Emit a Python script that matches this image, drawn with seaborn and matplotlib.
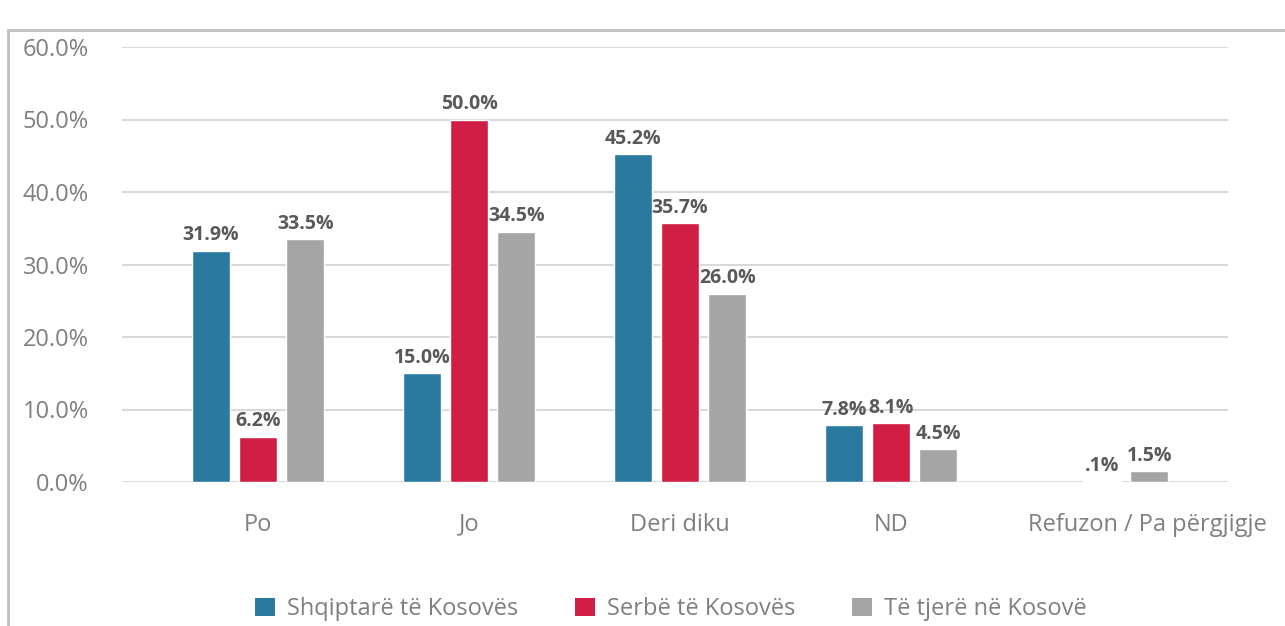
import pandas as pd
import numpy as np
import seaborn as sns
import matplotlib.pyplot as plt
from matplotlib.patches import Rectangle, Patch
from matplotlib.transforms import ScaledTranslation

# Données
categories = ["Po", "Jo", "Deri diku", "ND", "Refuzon / Pa përgjigje"]
groupes = ["Shqiptarë të Kosovës", "Serbë të Kosovës", "Të tjerë në Kosovë"]
shqiptare = [31.9, 15.0, 45.2, 7.8, np.nan]
serbe = [6.2, 50.0, 35.7, 8.1, 0.1]
te_tjere = [33.5, 34.5, 26.0, 4.5, 1.5]
couleurs = ["#2A7AA0", "#D01E45", "#A5A5A5"]

rows = []
for g, vals in zip(groupes, [shqiptare, serbe, te_tjere]):
    for c, v in zip(categories, vals):
        rows.append({"categorie": c, "groupe": g, "valeur": v})
df = pd.DataFrame(rows)

sns.set_theme(style="white")
plt.rcParams["font.family"] = ["Open Sans", "DejaVu Sans"]

fig = plt.figure(figsize=(12.85, 6.26), dpi=100)
ax = fig.add_axes([122 / 1285, 144 / 626, (1228 - 122) / 1285, (482 - 47) / 626])

sns.barplot(data=df, x="categorie", y="valeur", hue="groupe", order=categories,
            hue_order=groupes, palette=couleurs, width=0.67, gap=0.2,
            saturation=1, ax=ax, legend=False)

ax.set_ylim(0, 60)
ax.set_xlim(-0.645, 4.597)
ax.set_yticks(range(0, 61, 10))
ax.set_yticklabels([f"{v:.1f}%" for v in range(0, 61, 10)])
ax.yaxis.grid(True, color="#D9D9D9", linewidth=1.5)
ax.set_axisbelow(True)
for s in ax.spines.values():
    s.set_visible(False)
ax.tick_params(axis="y", length=0, pad=24, labelsize=17, labelcolor="#7F7F7F")
ax.tick_params(axis="x", length=0, pad=22, labelsize=17, labelcolor="#7F7F7F")
ax.set_xlabel("")
ax.set_ylabel("")

# décaler un peu la dernière étiquette comme dans Excel
lbl = ax.get_xticklabels()[-1]
lbl.set_transform(lbl.get_transform() + ScaledTranslation(0.45, 0, fig.dpi_scale_trans))

# Étiquettes de valeurs
for cont, vals in zip(ax.containers, [shqiptare, serbe, te_tjere]):
    for bar, v in zip(cont, vals):
        if np.isnan(v):
            continue
        txt = f"{v:.1f}%"
        if txt.startswith("0."):
            txt = txt[1:]
        ax.annotate(txt, (bar.get_x() + bar.get_width() / 2, v),
                    xytext=(0, 4), textcoords="offset points",
                    ha="center", va="bottom", fontsize=14, fontweight="bold",
                    color="#595959")

handles = [Patch(facecolor=c, edgecolor="none") for c in couleurs]
leg = fig.legend(handles, groupes, loc="center", bbox_to_anchor=(0.522, 0.027),
                 ncol=3, frameon=False, fontsize=17, handlelength=0.85,
                 handleheight=0.85, handletextpad=0.5, columnspacing=2.4)
for t in leg.get_texts():
    t.set_color("#7F7F7F")

# Cadre
fig.add_artist(Rectangle((8 / 1285, -0.1), 1.2, 1 - 30 / 626 + 0.1,
                         transform=fig.transFigure, fill=False,
                         edgecolor="#BFBFBF", linewidth=2))

plt.savefig("out.png", dpi=100)
